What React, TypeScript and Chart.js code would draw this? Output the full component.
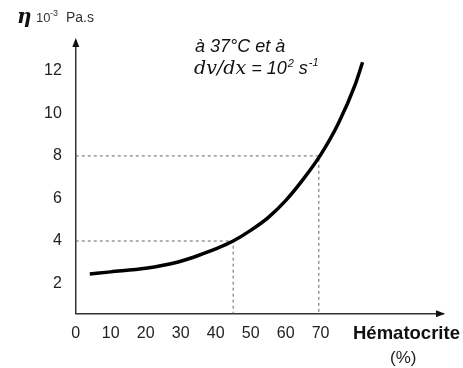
import React, { useEffect, useRef } from "react";
import { Chart, registerables } from "chart.js";

Chart.register(...registerables);

const hematocrit = [4, 10, 20, 25, 30, 35, 40, 45, 50, 55, 60, 65, 70, 75, 80, 82];
const viscosity = [2.45, 2.55, 2.72, 2.86, 3.05, 3.32, 3.63, 4.0, 4.5, 5.1, 5.9, 6.9, 8.05, 9.5, 11.4, 12.4];
const xTickValues = [0, 10, 20, 30, 40, 50, 60, 70];
const yTickValues = [2, 4, 6, 8, 10, 12];
const refX = [45, 69.5];
const refY = [4, 8];
const X_MIN = 0;
const X_MAX = 105;
const Y_MIN = 0.58;
const Y_MAX = 13.4;

const decorPlugin = {
  id: "decor",
  afterDraw(chart: any) {
    const ctx = chart.ctx;
    const a = chart.chartArea;
    ctx.save();
    ctx.fillStyle = "#111";
    // y arrow
    ctx.beginPath();
    ctx.moveTo(a.left, a.top - 3);
    ctx.lineTo(a.left - 3.5, a.top + 6);
    ctx.lineTo(a.left + 3.5, a.top + 6);
    ctx.closePath();
    ctx.fill();
    // x arrow
    ctx.beginPath();
    ctx.moveTo(a.right + 2, a.bottom);
    ctx.lineTo(a.right - 7, a.bottom - 3.5);
    ctx.lineTo(a.right - 7, a.bottom + 3.5);
    ctx.closePath();
    ctx.fill();

    // y title
    ctx.fillStyle = "#111";
    ctx.textBaseline = "alphabetic";
    ctx.textAlign = "left";
    ctx.font = "italic bold 20px 'DejaVu Serif'";
    ctx.fillText("η", 17, 23);
    ctx.fillStyle = "#333";
    ctx.font = "13px 'Liberation Sans'";
    ctx.fillText("10", 36, 22);
    ctx.font = "9px 'Liberation Sans'";
    ctx.fillText("-3", 50, 16);
    ctx.font = "14px 'Liberation Sans'";
    ctx.fillText("Pa.s", 66, 22);

    // x title
    ctx.fillStyle = "#111";
    ctx.font = "bold 18.5px 'Liberation Sans'";
    ctx.textBaseline = "middle";
    ctx.fillText("Hématocrite", 353, 334);
    ctx.font = "17px 'Liberation Sans'";
    ctx.fillStyle = "#222";
    ctx.fillText("(%)", 390, 358);

    // annotation
    ctx.fillStyle = "#111";
    ctx.font = "italic 18px 'Liberation Sans'";
    ctx.fillText("à 37°C et à", 195, 47);
    ctx.font = "italic 19px 'DejaVu Serif'";
    ctx.fillText("dv/dx", 194, 69);
    let w = ctx.measureText("dv/dx").width - 1;
    ctx.font = "italic 18px 'Liberation Sans'";
    const p1 = " = 10";
    ctx.fillText(p1, 195 + w, 69);
    w += ctx.measureText(p1).width;
    ctx.font = "italic 11px 'Liberation Sans'";
    ctx.fillText("2", 196 + w, 64);
    w += ctx.measureText("2").width + 1;
    ctx.font = "italic 18px 'Liberation Sans'";
    ctx.fillText(" s", 195 + w, 69);
    w += ctx.measureText(" s").width;
    ctx.font = "italic 11px 'Liberation Sans'";
    ctx.fillText("-1", 196 + w, 63);
    ctx.restore();
  },
};

export default function App() {
  const ref = useRef<HTMLCanvasElement | null>(null);
  useEffect(() => {
    if (!ref.current) return;
    const dashStyle = {
      borderColor: "#666",
      borderWidth: 1,
      borderDash: [3, 3],
      pointRadius: 0,
      tension: 0,
      fill: false,
    };
    const chart = new Chart(ref.current, {
      type: "line",
      data: {
        datasets: [
          {
            data: hematocrit.map((x, i) => ({ x, y: viscosity[i] })),
            borderColor: "#000",
            borderWidth: 3.5,
            pointRadius: 0,
            cubicInterpolationMode: "monotone",
            fill: false,
          },
          {
            ...dashStyle,
            data: [
              { x: X_MIN, y: refY[0] },
              { x: refX[0], y: refY[0] },
              { x: refX[0], y: Y_MIN },
            ],
          },
          {
            ...dashStyle,
            data: [
              { x: X_MIN, y: refY[1] },
              { x: refX[1], y: refY[1] },
              { x: refX[1], y: Y_MIN },
            ],
          },
        ],
      },
      options: {
        animation: false,
        responsive: false,
        maintainAspectRatio: false,
        layout: { padding: { left: 30, right: 20, top: 41, bottom: 15 } },
        plugins: { legend: { display: false }, tooltip: { enabled: false } },
        scales: {
          x: {
            type: "linear",
            min: X_MIN,
            max: X_MAX,
            grid: { display: false, drawTicks: false },
            border: { display: true, color: "#333", width: 1.5 },
            afterBuildTicks: (s: any) => {
              s.ticks = xTickValues.map((v) => ({ value: v }));
            },
            ticks: {
              padding: 10,
              color: "#222",
              font: { family: "'Liberation Sans'", size: 16 },
              maxRotation: 0,
              autoSkip: false,
            },
          },
          y: {
            type: "linear",
            min: Y_MIN,
            max: Y_MAX,
            grid: { display: false, drawTicks: false },
            border: { display: true, color: "#333", width: 1.5 },
            afterBuildTicks: (s: any) => {
              s.ticks = yTickValues.map((v) => ({ value: v }));
            },
            ticks: {
              padding: 14,
              color: "#222",
              font: { family: "'Liberation Sans'", size: 16 },
              autoSkip: false,
            },
          },
        },
      },
      plugins: [decorPlugin],
    } as any);
    return () => chart.destroy();
  }, []);
  return (
    <div style={{ position: "fixed", left: 0, top: 0, width: 463, height: 368, background: "#fff" }}>
      <canvas ref={ref} width={463} height={368} style={{ width: 463, height: 368 }} />
    </div>
  );
}
